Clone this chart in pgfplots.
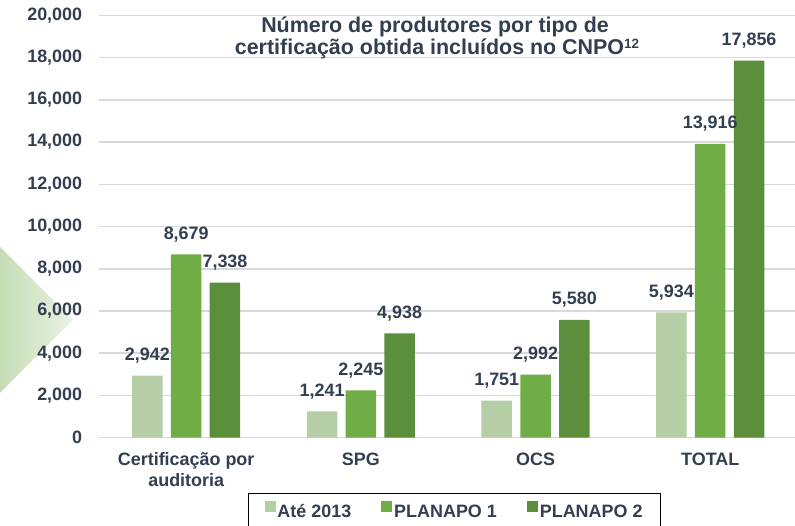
\documentclass[border=0pt]{standalone}
\usepackage{fontspec}
\setmainfont{Liberation Sans}
\usepackage{pgfplots}
\pgfplotsset{compat=1.18}
\definecolor{txt}{HTML}{333F50}
\definecolor{gridc}{HTML}{D9D9D9}
\definecolor{gA}{HTML}{B5CEA6}
\definecolor{gB}{HTML}{70AD47}
\definecolor{gC}{HTML}{5B8F3B}
\definecolor{triL}{HTML}{C3DCB2}
\definecolor{triR}{HTML}{E9F2E3}
\newcommand{\lbl}{\bfseries\fontsize{18}{21}\selectfont}

\begin{document}
\begin{tikzpicture}[x=1bp,y=1bp]
% decorative arrow on the left
\shade[left color=triL,right color=triR] (-5,284) -- (73,206) -- (-5,128) -- cycle;
\begin{axis}[
  at={(98.85bp,88.3bp)}, anchor=south west,
  scale only axis, width=698.7bp, height=422.3bp,
  ybar=8.3bp, bar width=30.5bp,
  xmin=-0.5, xmax=3.5, ymin=0, ymax=20000,
  xtick=data,
  xticklabels={{Certificação por\\auditoria},SPG,OCS,TOTAL},
  ytick={0,2000,...,20000},
  scaled y ticks=false,
  /pgf/number format/.cd, 1000 sep={,}, assume math mode=true, /pgfplots/.cd,
  axis line style={draw=none}, major tick length=0pt,
  ymajorgrids, grid style={gridc, line width=1.5bp},
  yticklabel style={font=\lbl, text=txt, anchor=east, inner sep=0pt, xshift=-16.5bp},
  xticklabel style={font=\lbl, text=txt, anchor=north, inner sep=0pt, align=center, yshift=-15bp},
  nodes near coords,
  nodes near coords style={font=\lbl, text=txt, anchor=base, inner sep=0pt, yshift=15bp},
  legend columns=3,
  legend style={at={(0.509,-0.131)}, anchor=north, draw=black, line width=1bp,
    font=\lbl, text=txt, inner xsep=16bp, inner ysep=7bp,
    /tikz/every even column/.append style={column sep=28bp}},
  legend image code/.code={\fill[#1] (0bp,0bp) rectangle (11bp,11bp);},
]
\addplot[fill=gA, draw=none] coordinates {(0,2942) (1,1241) (2,1751) (3,5934)};
\addplot[fill=gB, draw=none] coordinates {(0,8679) (1,2245) (2,2992) (3,13916)};
\addplot[fill=gC, draw=none] coordinates {(0,7338) (1,4938) (2,5580) (3,17856)};
\legend{Até 2013,PLANAPO 1,PLANAPO 2}
\end{axis}
\node[font=\bfseries\fontsize{21.5}{23}\selectfont, text=txt, anchor=base] at (435,493.5) {Número de produtores por tipo de};
\node[font=\bfseries\fontsize{21.5}{23}\selectfont, text=txt, anchor=base] at (437,471) {certificação obtida incluídos no CNPO\raisebox{6bp}{\fontsize{13.5}{14}\selectfont 12}};
\pgfresetboundingbox
\useasboundingbox (0,0) rectangle (795,526);
\end{tikzpicture}
\end{document}
